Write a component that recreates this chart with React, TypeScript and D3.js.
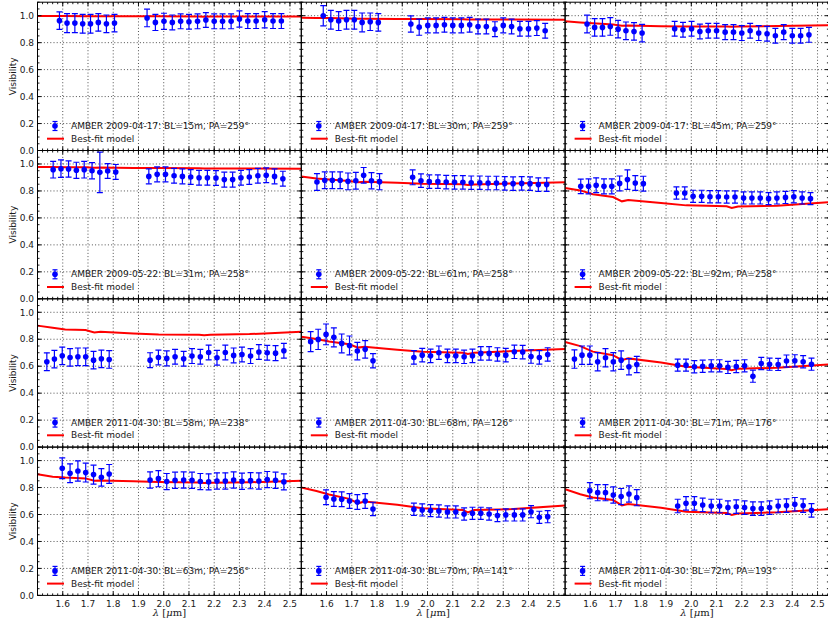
import React from 'react';
import * as d3 from 'd3';

// ---------- wavelength grids (µm) ----------
const LAM_A = [1.587, 1.617, 1.648, 1.679, 1.710, 1.741, 1.773, 1.805,
  1.934, 1.967, 2.001, 2.034, 2.067, 2.100, 2.134, 2.167, 2.200, 2.233, 2.267, 2.300, 2.333, 2.366, 2.400, 2.433, 2.466];
const LAM_B = [1.562, 1.593, 1.623, 1.654, 1.685, 1.716, 1.747, 1.778, 1.810,
  1.941, 1.974, 2.007, 2.041, 2.074, 2.107, 2.140, 2.173, 2.207, 2.240, 2.273, 2.306, 2.339, 2.373, 2.406, 2.439, 2.472];
const LAM_C = [1.537, 1.567, 1.598, 1.629, 1.660, 1.691, 1.722, 1.753, 1.784,
  1.946, 1.979, 2.012, 2.045, 2.079, 2.112, 2.145, 2.178, 2.211, 2.244, 2.277, 2.310, 2.344, 2.377, 2.410, 2.443, 2.476];
const LAM_D = [1.598, 1.629, 1.660, 1.691, 1.722, 1.753, 1.784,
  1.946, 1.979, 2.012, 2.045, 2.079, 2.112, 2.145, 2.178, 2.211, 2.244, 2.277, 2.310, 2.344, 2.377, 2.410, 2.443, 2.476];
const MODEL_LAM = [1.50, 1.56, 1.61, 1.69, 1.725, 1.75, 1.88, 1.98, 2.14, 2.16, 2.185, 2.34, 2.545];

// ---------- row 1: 2009-04-17 ----------
const V_15 = [0.963, 0.945, 0.945, 0.940, 0.940, 0.950, 0.940, 0.945,
  0.983, 0.950, 0.958, 0.950, 0.958, 0.955, 0.958, 0.968, 0.958, 0.958, 0.958, 0.975, 0.960, 0.960, 0.970, 0.960, 0.960];
const E_15 = [0.065, 0.07, 0.07, 0.07, 0.07, 0.065, 0.065, 0.065,
  0.065, 0.06, 0.06, 0.055, 0.055, 0.055, 0.055, 0.055, 0.055, 0.055, 0.055, 0.06, 0.055, 0.055, 0.06, 0.055, 0.055];
const M_15 = [0.997, 0.997, 0.997, 0.996, 0.995, 0.995, 0.995, 0.995, 0.994, 0.993, 0.994, 0.994, 0.994];

const V_30 = [1.0, 0.970, 0.960, 0.970, 0.970, 0.950, 0.955, 0.950,
  0.938, 0.915, 0.928, 0.928, 0.933, 0.928, 0.928, 0.933, 0.920, 0.920, 0.900, 0.928, 0.920, 0.903, 0.903, 0.908, 0.888];
const E_30 = [0.075, 0.07, 0.07, 0.07, 0.07, 0.07, 0.065, 0.065,
  0.06, 0.06, 0.055, 0.055, 0.055, 0.055, 0.055, 0.055, 0.055, 0.055, 0.055, 0.055, 0.055, 0.055, 0.055, 0.055, 0.055];
const M_30 = [0.984, 0.983, 0.982, 0.980, 0.978, 0.978, 0.976, 0.975, 0.973, 0.972, 0.972, 0.971, 0.970];

const V_45 = [0.938, 0.913, 0.913, 0.920, 0.900, 0.888, 0.883, 0.871,
  0.903, 0.896, 0.903, 0.883, 0.888, 0.888, 0.878, 0.878, 0.871, 0.888, 0.871, 0.866, 0.851, 0.878, 0.851, 0.851, 0.858];
const E_45 = [0.066, 0.065, 0.065, 0.065, 0.065, 0.065, 0.065, 0.065,
  0.055, 0.055, 0.055, 0.055, 0.055, 0.055, 0.055, 0.055, 0.055, 0.055, 0.055, 0.055, 0.055, 0.055, 0.055, 0.055, 0.055];
const M_45 = [0.958, 0.950, 0.943, 0.935, 0.925, 0.927, 0.922, 0.920, 0.920, 0.918, 0.920, 0.923, 0.930];

// ---------- row 2: 2009-05-22 ----------
const V_31 = [0.958, 0.965, 0.963, 0.953, 0.958, 0.950, 0.938, 0.948, 0.941,
  0.908, 0.923, 0.923, 0.913, 0.908, 0.903, 0.898, 0.898, 0.896, 0.884, 0.884, 0.898, 0.903, 0.913, 0.916, 0.908, 0.891];
const E_31 = [0.062, 0.065, 0.06, 0.06, 0.062, 0.06, 0.15, 0.055, 0.055,
  0.055, 0.055, 0.055, 0.055, 0.055, 0.055, 0.055, 0.055, 0.055, 0.055, 0.055, 0.055, 0.055, 0.055, 0.055, 0.055, 0.055];
const M_31 = [0.978, 0.977, 0.976, 0.975, 0.972, 0.973, 0.971, 0.970, 0.968, 0.966, 0.967, 0.966, 0.965];

const V_61 = [0.866, 0.879, 0.879, 0.879, 0.871, 0.876, 0.916, 0.876, 0.869,
  0.901, 0.876, 0.869, 0.869, 0.866, 0.864, 0.864, 0.861, 0.861, 0.859, 0.859, 0.856, 0.854, 0.856, 0.854, 0.847, 0.847];
const E_61 = [0.062, 0.062, 0.062, 0.062, 0.062, 0.062, 0.058, 0.06, 0.06,
  0.055, 0.05, 0.05, 0.05, 0.05, 0.05, 0.05, 0.05, 0.05, 0.05, 0.05, 0.05, 0.05, 0.05, 0.05, 0.05, 0.05];
const M_61 = [0.908, 0.893, 0.885, 0.874, 0.865, 0.869, 0.860, 0.853, 0.850, 0.845, 0.848, 0.856, 0.864];

const V_92 = [0.834, 0.834, 0.842, 0.834, 0.834, 0.856, 0.884, 0.859, 0.854,
  0.785, 0.785, 0.760, 0.760, 0.757, 0.757, 0.755, 0.755, 0.748, 0.748, 0.748, 0.743, 0.748, 0.752, 0.757, 0.748, 0.743];
const E_92 = [0.054, 0.055, 0.055, 0.055, 0.055, 0.055, 0.072, 0.055, 0.055,
  0.045, 0.045, 0.045, 0.045, 0.045, 0.045, 0.045, 0.045, 0.045, 0.045, 0.045, 0.045, 0.045, 0.045, 0.045, 0.045, 0.045];
const M_92 = [0.822, 0.804, 0.775, 0.755, 0.723, 0.733, 0.710, 0.693, 0.686, 0.673, 0.685, 0.691, 0.716];

// ---------- row 3: 2011-04-30 ----------
const V_58 = [0.633, 0.653, 0.677, 0.665, 0.670, 0.670, 0.645, 0.655, 0.650,
  0.645, 0.665, 0.658, 0.670, 0.655, 0.675, 0.670, 0.702, 0.663, 0.702, 0.680, 0.687, 0.675, 0.705, 0.700, 0.697, 0.715];
const E_58 = [0.066, 0.065, 0.065, 0.065, 0.065, 0.065, 0.065, 0.065, 0.065,
  0.055, 0.055, 0.055, 0.055, 0.055, 0.055, 0.055, 0.055, 0.055, 0.055, 0.055, 0.055, 0.055, 0.055, 0.055, 0.055, 0.055];
const M_58 = [0.901, 0.885, 0.872, 0.868, 0.850, 0.856, 0.843, 0.836, 0.834, 0.829, 0.833, 0.838, 0.856];

const V_68 = [0.782, 0.799, 0.836, 0.814, 0.769, 0.754, 0.712, 0.725, 0.640,
  0.665, 0.682, 0.677, 0.700, 0.677, 0.677, 0.670, 0.677, 0.695, 0.695, 0.687, 0.682, 0.707, 0.705, 0.672, 0.665, 0.687];
const E_68 = [0.074, 0.075, 0.077, 0.07, 0.07, 0.07, 0.065, 0.065, 0.053,
  0.05, 0.05, 0.05, 0.05, 0.05, 0.05, 0.05, 0.05, 0.05, 0.05, 0.05, 0.05, 0.05, 0.05, 0.05, 0.05, 0.05];
const M_68 = [0.819, 0.802, 0.783, 0.763, 0.738, 0.744, 0.722, 0.707, 0.700, 0.690, 0.700, 0.712, 0.727];

const V_71 = [0.653, 0.682, 0.682, 0.633, 0.663, 0.633, 0.645, 0.596, 0.613,
  0.608, 0.608, 0.596, 0.600, 0.603, 0.603, 0.591, 0.598, 0.603, 0.526, 0.620, 0.615, 0.613, 0.638, 0.640, 0.633, 0.615];
const E_71 = [0.068, 0.068, 0.068, 0.068, 0.068, 0.068, 0.068, 0.06, 0.06,
  0.045, 0.045, 0.045, 0.045, 0.045, 0.045, 0.045, 0.045, 0.045, 0.045, 0.045, 0.045, 0.045, 0.045, 0.045, 0.045, 0.045];
const M_71 = [0.780, 0.749, 0.708, 0.682, 0.645, 0.658, 0.627, 0.596, 0.580, 0.571, 0.582, 0.588, 0.614];

// ---------- row 4: 2011-04-30 ----------
const V_63 = [0.943, 0.906, 0.923, 0.911, 0.896, 0.876, 0.901,
  0.856, 0.866, 0.844, 0.854, 0.856, 0.854, 0.844, 0.842, 0.849, 0.849, 0.856, 0.847, 0.851, 0.849, 0.859, 0.854, 0.842];
const E_63 = [0.077, 0.07, 0.075, 0.07, 0.07, 0.065, 0.07,
  0.06, 0.06, 0.06, 0.06, 0.06, 0.06, 0.06, 0.06, 0.06, 0.06, 0.06, 0.06, 0.06, 0.06, 0.06, 0.06, 0.06];
const M_63 = [0.899, 0.880, 0.874, 0.868, 0.851, 0.853, 0.846, 0.842, 0.837, 0.833, 0.835, 0.839, 0.851];

const V_70 = [0.728, 0.715, 0.713, 0.700, 0.693, 0.700, 0.641,
  0.639, 0.634, 0.629, 0.626, 0.619, 0.619, 0.604, 0.609, 0.609, 0.604, 0.592, 0.597, 0.597, 0.597, 0.621, 0.579, 0.584];
const E_70 = [0.055, 0.055, 0.055, 0.055, 0.055, 0.055, 0.05,
  0.045, 0.045, 0.045, 0.045, 0.045, 0.045, 0.045, 0.045, 0.045, 0.045, 0.045, 0.045, 0.045, 0.045, 0.045, 0.045, 0.045];
const M_70 = [0.800, 0.774, 0.748, 0.716, 0.683, 0.696, 0.672, 0.646, 0.634, 0.616, 0.634, 0.640, 0.666];

const V_72 = [0.777, 0.762, 0.762, 0.745, 0.733, 0.752, 0.725,
  0.663, 0.683, 0.683, 0.671, 0.663, 0.663, 0.651, 0.658, 0.651, 0.644, 0.644, 0.651, 0.663, 0.666, 0.676, 0.666, 0.631];
const E_72 = [0.06, 0.06, 0.06, 0.06, 0.06, 0.06, 0.06,
  0.05, 0.05, 0.05, 0.05, 0.05, 0.05, 0.05, 0.05, 0.05, 0.05, 0.05, 0.05, 0.05, 0.05, 0.05, 0.05, 0.05];
const M_72 = [0.787, 0.750, 0.726, 0.708, 0.668, 0.678, 0.650, 0.621, 0.612, 0.597, 0.608, 0.616, 0.640];

const LABELS = [
  'AMBER 2009-04-17: BL=15m, PA=259°', 'AMBER 2009-04-17: BL=30m, PA=259°', 'AMBER 2009-04-17: BL=45m, PA=259°',
  'AMBER 2009-05-22: BL=31m, PA=258°', 'AMBER 2009-05-22: BL=61m, PA=258°', 'AMBER 2009-05-22: BL=92m, PA=258°',
  'AMBER 2011-04-30: BL=58m, PA=238°', 'AMBER 2011-04-30: BL=68m, PA=126°', 'AMBER 2011-04-30: BL=71m, PA=176°',
  'AMBER 2011-04-30: BL=63m, PA=256°', 'AMBER 2011-04-30: BL=70m, PA=141°', 'AMBER 2011-04-30: BL=72m, PA=193°',
];
const MODEL_LABEL = 'Best-fit model';
const X_TICKS = [1.6, 1.7, 1.8, 1.9, 2.0, 2.1, 2.2, 2.3, 2.4, 2.5];
const Y_TICKS = [0.0, 0.2, 0.4, 0.6, 0.8, 1.0];

const PANELS = [
  { lam: LAM_A, v: V_15, e: E_15, m: M_15 }, { lam: LAM_A, v: V_30, e: E_30, m: M_30 }, { lam: LAM_A, v: V_45, e: E_45, m: M_45 },
  { lam: LAM_B, v: V_31, e: E_31, m: M_31 }, { lam: LAM_B, v: V_61, e: E_61, m: M_61 }, { lam: LAM_B, v: V_92, e: E_92, m: M_92 },
  { lam: LAM_C, v: V_58, e: E_58, m: M_58 }, { lam: LAM_C, v: V_68, e: E_68, m: M_68 }, { lam: LAM_C, v: V_71, e: E_71, m: M_71 },
  { lam: LAM_D, v: V_63, e: E_63, m: M_63 }, { lam: LAM_D, v: V_70, e: E_70, m: M_70 }, { lam: LAM_D, v: V_72, e: E_72, m: M_72 },
];

const W = 828, H = 623;
const LEFT = 37.5, COLW = 263.8, TOP = 2.2, ROWH = 148.3;
const BLUE = '#0000ff', RED = '#ff0000', INK = '#1a1a1a';
const SANS = 'DejaVu Sans, sans-serif';

export default function App() {
  const x = d3.scaleLinear().domain([1.5, 2.545]).range([0, COLW]);
  const y = d3.scaleLinear().domain([0, 1.1]).range([ROWH, 0]);
  const line = d3.line<number>().x((_, i) => x(MODEL_LAM[i])).y((d) => y(d));
  const xMinor = d3.range(0, 53).map((i) => 1.5 + i * 0.02).filter((v) => v <= 2.545);
  const yMinor = d3.range(0, 23).map((i) => i * 0.05).filter((v) => v <= 1.1001);

  return (
    <svg width={W} height={H} style={{ position: 'absolute', left: 0, top: 0, display: 'block', background: '#fff' }}
      fontFamily={SANS}>
      <rect width={W} height={H} fill="#fff" />
      <defs>
        <clipPath id="pclip"><rect x={0} y={0} width={COLW} height={ROWH} /></clipPath>
      </defs>
      {PANELS.map((p, k) => {
        const row = Math.floor(k / 3), col = k % 3;
        const px = LEFT + col * COLW, py = TOP + row * ROWH;
        return (
          <g key={k} transform={`translate(${px},${py})`}>
            {/* grid */}
            <g stroke="#000" strokeWidth={0.8} strokeDasharray="1,2.2" opacity={0.85}>
              {X_TICKS.map((t) => <line key={'gx' + t} x1={x(t)} x2={x(t)} y1={0} y2={ROWH} />)}
              {Y_TICKS.filter((t) => t > 0).map((t) => <line key={'gy' + t} x1={0} x2={COLW} y1={y(t)} y2={y(t)} />)}
            </g>
            <g clipPath="url(#pclip)">
              <path d={line(p.m) || ''} fill="none" stroke={RED} strokeWidth={2} />
              {p.lam.map((l, i) => {
                const cx = x(l), top = y(p.v[i] + p.e[i]), bot = y(p.v[i] - p.e[i]);
                return (
                  <g key={i} stroke={BLUE} strokeWidth={1.2}>
                    <line x1={cx} x2={cx} y1={top} y2={bot} />
                    <line x1={cx - 3} x2={cx + 3} y1={top} y2={top} />
                    <line x1={cx - 3} x2={cx + 3} y1={bot} y2={bot} />
                    <circle cx={cx} cy={y(p.v[i])} r={2.8} fill={BLUE} stroke="none" />
                  </g>
                );
              })}
            </g>
            {/* legend */}
            <g>
              <g stroke={BLUE} strokeWidth={1.2}>
                <line x1={17.5} x2={17.5} y1={ROWH - 29} y2={ROWH - 20} />
                <line x1={15} x2={20} y1={ROWH - 29} y2={ROWH - 29} />
                <line x1={15} x2={20} y1={ROWH - 20} y2={ROWH - 20} />
                <circle cx={17.5} cy={ROWH - 24.5} r={2.8} fill={BLUE} stroke="none" />
              </g>
              <text x={33.5} y={ROWH - 24.5} dy="0.35em" fontSize={9} fill={INK}>{LABELS[k]}</text>
              <line x1={9.5} x2={26.5} y1={ROWH - 11.8} y2={ROWH - 11.8} stroke={RED} strokeWidth={2} />
              <text x={33.5} y={ROWH - 11.8} dy="0.35em" fontSize={9} fill={INK}>{MODEL_LABEL}</text>
            </g>
            {/* ticks */}
            <g stroke="#000" strokeWidth={0.9}>
              {xMinor.map((t, i) => (
                <g key={'xm' + i}>
                  <line x1={x(t)} x2={x(t)} y1={ROWH} y2={ROWH - 2} />
                  <line x1={x(t)} x2={x(t)} y1={0} y2={2} />
                </g>
              ))}
              {yMinor.map((t, i) => (
                <g key={'ym' + i}>
                  <line x1={0} x2={2} y1={y(t)} y2={y(t)} />
                  <line x1={COLW} x2={COLW - 2} y1={y(t)} y2={y(t)} />
                </g>
              ))}
              {X_TICKS.map((t) => (
                <g key={'xM' + t}>
                  <line x1={x(t)} x2={x(t)} y1={ROWH} y2={ROWH - 4} />
                  <line x1={x(t)} x2={x(t)} y1={0} y2={4} />
                </g>
              ))}
              {Y_TICKS.map((t) => (
                <g key={'yM' + t}>
                  <line x1={0} x2={4} y1={y(t)} y2={y(t)} />
                  <line x1={COLW} x2={COLW - 4} y1={y(t)} y2={y(t)} />
                </g>
              ))}
            </g>
            <rect x={0} y={0} width={COLW} height={ROWH} fill="none" stroke="#000" strokeWidth={1} />
            {/* tick labels */}
            {col === 0 && Y_TICKS.map((t) => (
              <text key={'yl' + t} x={-3.5} y={y(t)} dy="0.36em" textAnchor="end" fontSize={9} fill={INK}>{t.toFixed(1)}</text>
            ))}
            {col === 0 && (
              <text transform={`translate(${13.3 - LEFT},${ROWH / 2}) rotate(-90)`} textAnchor="middle" dy="0.35em"
                fontSize={9} fill={INK}>Visibility</text>
            )}
            {row === 3 && X_TICKS.map((t) => (
              <text key={'xl' + t} x={x(t)} y={ROWH + 11.3} textAnchor="middle" fontSize={9} fill={INK}>{t.toFixed(1)}</text>
            ))}
            {row === 3 && (
              <text x={COLW / 2} y={ROWH + 20.8} textAnchor="middle" fontSize={10} fill={INK}
                fontFamily="DejaVu Serif, serif">
                <tspan fontStyle="italic">λ</tspan> [<tspan fontStyle="italic">μ</tspan>m]
              </text>
            )}
          </g>
        );
      })}
    </svg>
  );
}
